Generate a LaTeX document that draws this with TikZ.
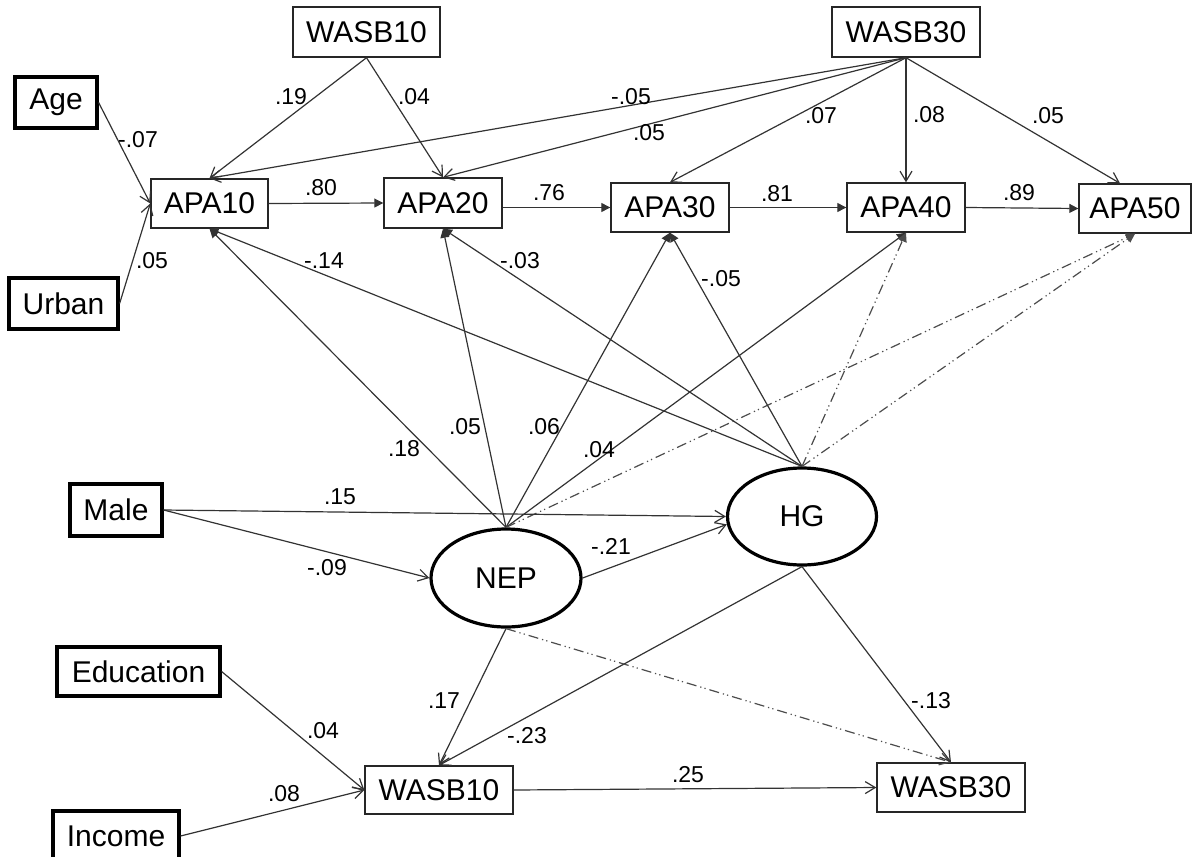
\documentclass[tikz,border=0pt]{standalone}
\usepackage{fontspec}
\setmainfont{Liberation Sans}
\usetikzlibrary{arrows.meta,shapes.geometric,calc}

\tikzset{
  varbox/.style={draw=black!85, line width=0.7pt, rectangle, inner sep=0pt,
    font=\fontsize{15}{17}\selectfont},
  obsbox/.style={varbox, draw=black, line width=1.6pt},
  latent/.style={ellipse, draw=black, line width=1.6pt, inner sep=0pt,
    font=\fontsize{15}{17}\selectfont},
  link/.style={draw=black!80, line width=0.6pt},
  openarr/.style={link, -{Straight Barb[length=5pt,width=6pt]}},
  fillarr/.style={link, -{Triangle[length=4.5pt,width=4.5pt]}},
  dashdotdot/.style={draw=black!70, dash pattern=on 5pt off 2pt on 0.6pt off 1.6pt on 0.6pt off 2pt},
  coef/.style={font=\fontsize{11.5}{13}\selectfont, inner sep=0pt}
}

\begin{document}
\begin{tikzpicture}[x=0.5pt,y=-0.5pt]
\useasboundingbox (0,0) rectangle (1192,856);

% observed covariates
\node[obsbox, minimum width=41pt,   minimum height=25.5pt] (age)       at (56,102.5)   {Age};
\node[obsbox, minimum width=54.5pt, minimum height=25.5pt] (urban)     at (63.5,303.5) {Urban};
\node[obsbox, minimum width=46pt,   minimum height=26pt]   (male)      at (116,510)    {Male};
\node[obsbox, minimum width=81.5pt, minimum height=24.5pt] (education) at (138.5,671.5){Education};
\node[obsbox, minimum width=63pt,   minimum height=25pt]   (income)    at (116,836)    {Income};

% behaviour measures, top row
\node[varbox, minimum width=73.5pt, minimum height=25pt] (wasb10t) at (366.5,32) {WASB10};
\node[varbox, minimum width=74pt,   minimum height=25pt] (wasb30t) at (906,32)   {WASB30};

% APA series
\node[varbox, minimum width=58.5pt, minimum height=24.5pt] (apa10) at (209.5,203.5) {APA10};
\node[varbox, minimum width=59pt,   minimum height=25pt]   (apa20) at (443,203)     {APA20};
\node[varbox, minimum width=59pt,   minimum height=24.5pt] (apa30) at (670,207.5)   {APA30};
\node[varbox, minimum width=59pt,   minimum height=24.5pt] (apa40) at (906,207.5)   {APA40};
\node[varbox, minimum width=56pt,   minimum height=24.5pt] (apa50) at (1135,208.5)  {APA50};

% latent factors
\node[latent, minimum width=75pt,   minimum height=49pt]   (nep) at (506,578)   {NEP};
\node[latent, minimum width=74.5pt, minimum height=48.5pt] (hg)  at (802,516.5) {HG};

% behaviour measures, bottom row
\node[varbox, minimum width=74pt, minimum height=24pt]   (wasb10b) at (439,790)   {WASB10};
\node[varbox, minimum width=74pt, minimum height=24.5pt] (wasb30b) at (951,787.5) {WASB30};

% covariates -> APA10
\draw[openarr] (age.east) -- (apa10.west) node[coef] (kage) at (138,140) {-.07};
\draw[openarr] (urban.east) -- (apa10.west) node[coef] (kurban) at (152,261) {.05};

% WASB10 / WASB30 -> APA series
\draw[openarr] (wasb10t.south) -- (apa10.north) node[coef] (kw1a1) at (291,97) {.19};
\draw[openarr] (wasb10t.south) -- (apa20.north) node[coef] (kw1a2) at (414,97) {.04};
\draw[openarr] (wasb30t.south) -- (apa10.north) node[coef] (kw3a1) at (631,97) {-.05};
\draw[openarr] (wasb30t.south) -- (apa20.north) node[coef] (kw3a2) at (649,133) {.05};
\draw[openarr] (wasb30t.south) -- (apa30.north) node[coef] (kw3a3) at (821,116) {.07};
\draw[openarr] (wasb30t.south) -- (apa40.north) node[coef] (kw3a4) at (929,115) {.08};
\draw[openarr] (wasb30t.south) -- ($(apa50.north)+(-15,0)$) node[coef] (kw3a5) at (1048,116) {.05};

% autoregressive chain
\draw[fillarr] (apa10.east) -- (apa20.west) node[coef] (ka12) at (321,188) {.80};
\draw[fillarr] (apa20.east |- apa30.west) -- (apa30.west) node[coef] (ka23) at (549,193) {.76};
\draw[fillarr] (apa30.east) -- (apa40.west) node[coef] (ka34) at (777,194) {.81};
\draw[fillarr] (apa40.east) -- (apa50.west) node[coef] (ka45) at (1019,193) {.89};

% NEP -> APA series
\draw[fillarr] (nep.north) -- (apa10.south) node[coef] (kn1) at (404,449) {.18};
\draw[fillarr] (nep.north) -- (apa20.south) node[coef] (kn2) at (465,427) {.05};
\draw[fillarr] (nep.north) -- (apa30.south) node[coef] (kn3) at (544,427) {.06};
\draw[fillarr] (nep.north) -- (apa40.south) node[coef] (kn4) at (599,450) {.04};
\draw[fillarr, dashdotdot] (nep.north) -- (apa50.south);

% HG -> APA series
\draw[fillarr] (hg.north) -- (apa10.south) node[coef] (kh1) at (324,261) {-.14};
\draw[fillarr] (hg.north) -- (apa20.south) node[coef] (kh2) at (520,261) {-.03};
\draw[fillarr] (hg.north) -- (apa30.south) node[coef] (kh3) at (721,279) {-.05};
\draw[fillarr, dashdotdot] (hg.north) -- (apa40.south);
\draw[fillarr, dashdotdot] (hg.north) -- (apa50.south);

% Male and NEP -> HG
\draw[openarr] (male.east) -- (hg.west) node[coef] (kmh) at (340,497) {.15};
\draw[openarr] (male.east) -- (nep.west) node[coef] (kmn) at (327,568) {-.09};
\draw[openarr] (nep.east) -- (hg.186) node[coef] (knh) at (611,546) {-.21};

% latent factors -> WASB
\draw[openarr] (nep.south) -- (wasb10b.north) node[coef] (knw1) at (444,701) {.17};
\draw[openarr] (hg.south) -- (wasb10b.north) node[coef] (khw1) at (527,736) {-.23};
\draw[openarr, dashdotdot] (nep.south) -- (wasb30b.north);
\draw[openarr] (hg.south) -- (wasb30b.north) node[coef] (khw3) at (931,701) {-.13};

% covariates -> WASB10, WASB10 -> WASB30
\draw[openarr] (education.east) -- (wasb10b.west) node[coef] (kedu) at (323,731) {.04};
\draw[openarr] (income.east) -- (wasb10b.west) node[coef] (kinc) at (284,794) {.08};
\draw[openarr] (wasb10b.east) -- (wasb30b.west) node[coef] (kw13) at (688,775) {.25};
\end{tikzpicture}
\end{document}
